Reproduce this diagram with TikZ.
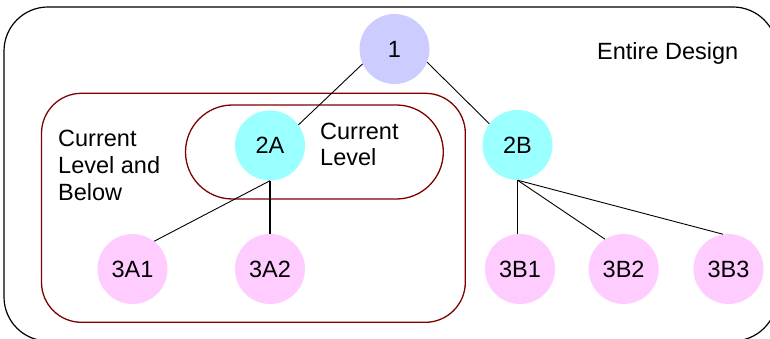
\documentclass[tikz,border=0pt]{standalone}
\usepackage{fontspec}
\setmainfont{Liberation Sans}
\begin{document}
\begin{tikzpicture}[x=1pt,y=-1pt,
  every node/.style={font=\fontsize{23.5}{26.5}\selectfont},
  level/.style={circle, minimum size=70pt, inner sep=0pt},
  lvone/.style={level, fill=c1},
  lvtwo/.style={level, fill=c2},
  lvthree/.style={level, fill=c3},
  tree/.style={draw=black, line width=0.9pt},
  treethick/.style={draw=black, line width=1.8pt},
  group/.style={draw=grp, line width=1.3pt},
  label/.style={anchor=base west, align=left, inner sep=0pt}
]
\definecolor{c1}{HTML}{CCCCFF}
\definecolor{c2}{HTML}{99FFFF}
\definecolor{c3}{HTML}{FFCCFF}
\definecolor{grp}{HTML}{800000}
\useasboundingbox (0,0) rectangle (770,339);
\begin{scope}
\clip (0,0) rectangle (770,339);
\draw[line width=1.2pt, rounded corners=44pt] (4,7) rectangle (777,341);
\end{scope}
% groups
\draw[group, rounded corners=40pt] (41.5,93.3) rectangle (465.3,322.3);
\draw[group, rounded corners=47pt] (185.5,105) rectangle (443.3,199);
% nodes
\node[lvone] (n1) at (394.5,49) {1};
\node[lvtwo] (n2a) at (270,145.5) {2A};
\node[lvtwo] (n2b) at (517.5,145) {2B};
\node[lvthree] (n3a1) at (132.5,269) {3A1};
\node[lvthree] (n3a2) at (270,269) {3A2};
\node[lvthree] (n3b1) at (520,269) {3B1};
\node[lvthree] (n3b2) at (623.6,269) {3B2};
\node[lvthree] (n3b3) at (728.5,269) {3B3};
% edges
\draw[tree] (n1.205) -- (n2a.36);
\draw[tree] (n1.338) -- (n2b.143);
\draw[tree] (n2a.south) -- (n3a1.52);
\draw[treethick] (n2a.south) -- (n2a.south |- n3a2.north);
\draw[treethick] (n2b.south) -- (n2b.south |- n3b1.north);
\draw[tree] (n2b.south) -- (n3b2.122);
\draw[tree] (n2b.south) -- (n3b3.99);
% texts
\node[label] (tbelow) at (58,200) {Current\\Level and\\Below};
\node[label] (tcur) at (320,166) {Current\\Level};
\node[label] (tall) at (597,60) {Entire Design};
\end{tikzpicture}
\end{document}
